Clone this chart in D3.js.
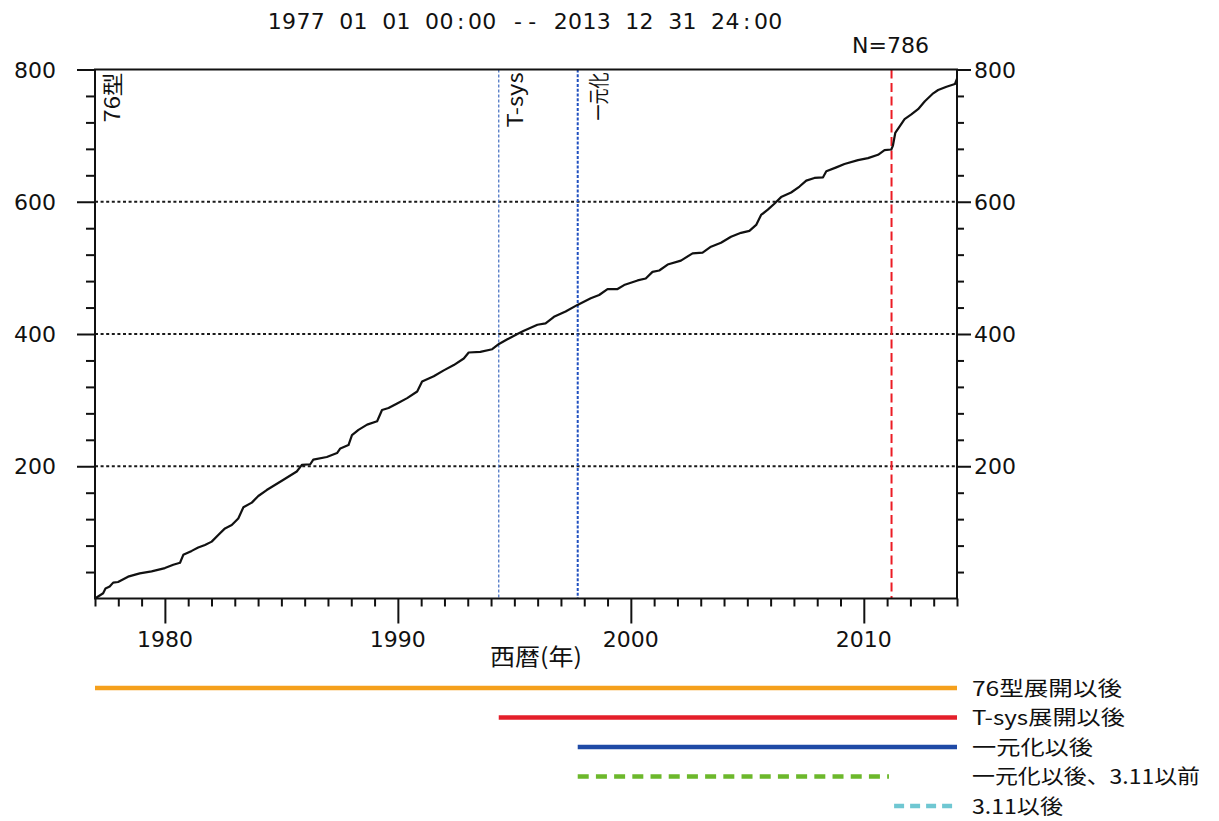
<!DOCTYPE html>
<html>
<head>
<meta charset="utf-8">
<script src="https://cdn.jsdelivr.net/npm/d3@7"></script>
<style>
  html, body { margin: 0; padding: 0; background: #fff; }
  svg { display: block; }
  .num { font-family: "DejaVu Sans", sans-serif; font-size: 22px; fill: #111; }
  .jp { font-family: "Noto Sans CJK JP", sans-serif; fill: #111; }
</style>
</head>
<body>
<svg id="chart" width="1219" height="821"></svg>
<script>
// Cumulative event count (decimal year, running total)
const years = [
  1977.00, 1977.35, 1977.45, 1977.63, 1977.78, 1977.99, 1978.42, 1978.92, 1979.43, 1980.00,
  1980.36, 1980.65, 1980.79, 1981.15, 1981.43, 1981.72, 1982.01, 1982.29, 1982.58, 1982.87,
  1983.15, 1983.37, 1983.73, 1984.01, 1984.37, 1985.02, 1985.66, 1985.88, 1986.24, 1986.37,
  1986.95, 1987.39, 1987.53, 1987.88, 1988.03, 1988.31, 1988.68, 1989.11, 1989.32, 1989.60,
  1989.97, 1990.40, 1990.83, 1991.04, 1991.54, 1991.97, 1992.40, 1992.83, 1993.04, 1993.54,
  1994.05, 1994.34, 1994.70, 1995.13, 1995.41, 1995.99, 1996.34, 1996.70, 1997.20, 1997.71,
  1998.28, 1998.64, 1999.00, 1999.43, 1999.71, 2000.29, 2000.64, 2000.93, 2001.22, 2001.58,
  2002.15, 2002.65, 2003.08, 2003.44, 2003.87, 2004.30, 2004.73, 2005.09, 2005.38, 2005.59,
  2005.88, 2006.16, 2006.45, 2006.88, 2007.24, 2007.53, 2007.88, 2008.25, 2008.39, 2008.82,
  2009.17, 2009.75, 2010.18, 2010.61, 2010.89, 2011.18, 2011.25, 2011.35, 2011.54, 2011.75,
  2012.04, 2012.33, 2012.62, 2012.98, 2013.19, 2013.55, 2013.91, 2014.00
];
const counts = [
  0, 8, 15, 18, 24, 25, 33, 38, 41, 46,
  51, 54, 66, 72, 77, 81, 86, 96, 106, 111,
  121, 138, 145, 155, 164, 178, 192, 202, 203, 210,
  214, 220, 227, 232, 247, 255, 263, 268, 285, 288,
  295, 303, 313, 328, 336, 345, 353, 363, 372, 373,
  377, 385, 392, 400, 405, 414, 416, 426, 434, 444,
  454, 459, 468, 468, 474, 481, 484, 494, 496, 505,
  511, 522, 523, 532, 538, 547, 553, 556, 565, 580,
  588, 597, 607, 614, 623, 632, 636, 637, 646, 652,
  657, 663, 666, 671, 678, 679, 685, 704, 714, 725,
  732, 740, 752, 764, 769, 774, 778, 786
];

const titleText = "1977 01 01 00:00 -- 2013 12 31 24:00";
const totalLabel = "N=786";
const xTickLabels = [1980, 1990, 2000, 2010];
const yTickLabels = [200, 400, 600, 800];
const xAxisTitle = "西暦(年)";

// Reference dates drawn as vertical markers
const eventNames = ["76型", "T-sys", "一元化", ""];
const eventYears = [1977.0, 1994.33, 1997.72, 2011.19];

// Period bars under the plot
const periodLabels = ["76型展開以後", "T-sys展開以後", "一元化以後", "一元化以後、3.11以前", "3.11以後"];
const periodStart = [1977.0, 1994.33, 1997.72, 1997.72, 2011.3];
const periodEnd = [2014.0, 2014.0, 2014.0, 2011.08, 2013.92];
const periodColors = ["#f5a01c", "#e41f2a", "#1f4aa6", "#6cb82b", "#6fc7d2"];
const periodDash = [null, null, null, "11,7.2", "10,6"];

const svg = d3.select("#chart");
const x = d3.scaleLinear().domain([1977, 2014]).range([95, 957]);
const y = d3.scaleLinear().domain([0, 800]).range([598.5, 69.5]);

// Title, one character per fixed-width cell
const title = svg.append("text").attr("class", "num").attr("y", 29).attr("text-anchor", "middle");
title.attr("x", Array.from(titleText, (c, i) => 274.8 + i * 14.3).join(" ")).text(titleText);

svg.append("text").attr("class", "num").attr("x", 852).attr("y", 53).text(totalLabel);

// Dotted grid
svg.append("g").selectAll("line").data([200, 400, 600]).join("line")
  .attr("x1", x(1977)).attr("x2", x(2014))
  .attr("y1", d => y(d)).attr("y2", d => y(d))
  .attr("stroke", "#1a1a1a").attr("stroke-width", 2).attr("stroke-dasharray", "3,2.6");

// Left / right axes: ticks every 40, long ticks every 200
const yTicks = d3.range(40, 801, 40);
const leftAxis = d3.axisLeft(y).tickValues(yTicks).tickSize(9).tickFormat("");
const rightAxis = d3.axisRight(y).tickValues(yTicks).tickSize(9).tickFormat("");
const gl = svg.append("g").attr("transform", `translate(${x(1977)},0)`).call(leftAxis);
const gr = svg.append("g").attr("transform", `translate(${x(2014)},0)`).call(rightAxis);
[gl, gr].forEach(g => {
  g.select(".domain").remove();
  g.selectAll(".tick line").attr("stroke", "#111").attr("stroke-width", 2);
});
gl.selectAll(".tick line").attr("x2", d => d % 200 === 0 ? -18 : -9);
gr.selectAll(".tick line").attr("x2", d => d % 200 === 0 ? 14 : 7);

// Bottom axis: yearly ticks, long ticks at decades
const xAxis = d3.axisBottom(x).tickValues(d3.range(1977, 2015)).tickSize(8).tickFormat("");
const gx = svg.append("g").attr("transform", `translate(0,${y(0)})`).call(xAxis);
gx.select(".domain").remove();
gx.selectAll(".tick line").attr("stroke", "#111").attr("stroke-width", 2)
  .attr("y2", d => d % 10 === 0 ? 25 : 8);

// Tick labels
svg.append("g").selectAll("text").data(xTickLabels).join("text")
  .attr("class", "num").attr("text-anchor", "middle")
  .attr("x", d => x(d)).attr("y", 647).text(d => d);
svg.append("g").selectAll("text").data(yTickLabels).join("text")
  .attr("class", "num").attr("text-anchor", "end")
  .attr("x", 56).attr("y", d => y(d) + 8).text(d => d);
svg.append("g").selectAll("text").data(yTickLabels).join("text")
  .attr("class", "num").attr("text-anchor", "start")
  .attr("x", 974).attr("y", d => y(d) + 8).text(d => d);

svg.append("text").attr("class", "jp").attr("font-size", 23).attr("text-anchor", "middle")
  .attr("x", 536).attr("y", 665)
  .attr("textLength", 92).attr("lengthAdjust", "spacingAndGlyphs")
  .text(xAxisTitle);

// Vertical markers
const markerStyle = [
  null,
  { color: "#4f78c6", width: 1.3, dash: "3,2" },
  { color: "#1f4fbf", width: 2, dash: "3,1.8" },
  { color: "#ec1c24", width: 2, dash: "9,4.5" }
];
eventYears.forEach((yr, i) => {
  const s = markerStyle[i];
  if (!s) return;
  svg.append("line")
    .attr("x1", x(yr)).attr("x2", x(yr)).attr("y1", y(800)).attr("y2", y(0))
    .attr("stroke", s.color).attr("stroke-width", s.width).attr("stroke-dasharray", s.dash);
});
const labelOffsets = [25, 24, 28, 0];
const labelLengths = [50, 55, 48, 0];
eventYears.forEach((yr, i) => {
  if (!eventNames[i]) return;
  svg.append("text").attr("class", "jp").attr("font-size", 21)
    .attr("text-anchor", "end")
    .attr("textLength", labelLengths[i]).attr("lengthAdjust", "spacingAndGlyphs")
    .attr("transform", `translate(${x(yr) + labelOffsets[i]},${y(800) + 3}) rotate(-90)`)
    .text(eventNames[i]);
});

// Cumulative curve
const pts = years.map((yr, i) => [yr, counts[i]]);
svg.append("path").datum(pts)
  .attr("fill", "none").attr("stroke", "#111").attr("stroke-width", 2.2)
  .attr("stroke-linejoin", "round")
  .attr("d", d3.line().x(d => x(d[0])).y(d => y(d[1])));

// Plot frame
svg.append("rect")
  .attr("x", x(1977)).attr("y", y(800))
  .attr("width", x(2014) - x(1977)).attr("height", y(0) - y(800))
  .attr("fill", "none").attr("stroke", "#111").attr("stroke-width", 2);

// Period bars and their labels
const rowY = i => 688 + i * 29.5;
const periodLabelWidths = [150, 153, 121, 228, 91];
periodLabels.forEach((lab, i) => {
  svg.append("line")
    .attr("x1", x(periodStart[i])).attr("x2", x(periodEnd[i]))
    .attr("y1", rowY(i)).attr("y2", rowY(i))
    .attr("stroke", periodColors[i]).attr("stroke-width", 4.5)
    .attr("stroke-dasharray", periodDash[i]);
  svg.append("text").attr("class", "jp").attr("font-size", 20.2)
    .attr("x", 972).attr("y", rowY(i) + 7.5)
    .attr("textLength", periodLabelWidths[i]).attr("lengthAdjust", "spacingAndGlyphs")
    .text(lab);
});
</script>
</body>
</html>
